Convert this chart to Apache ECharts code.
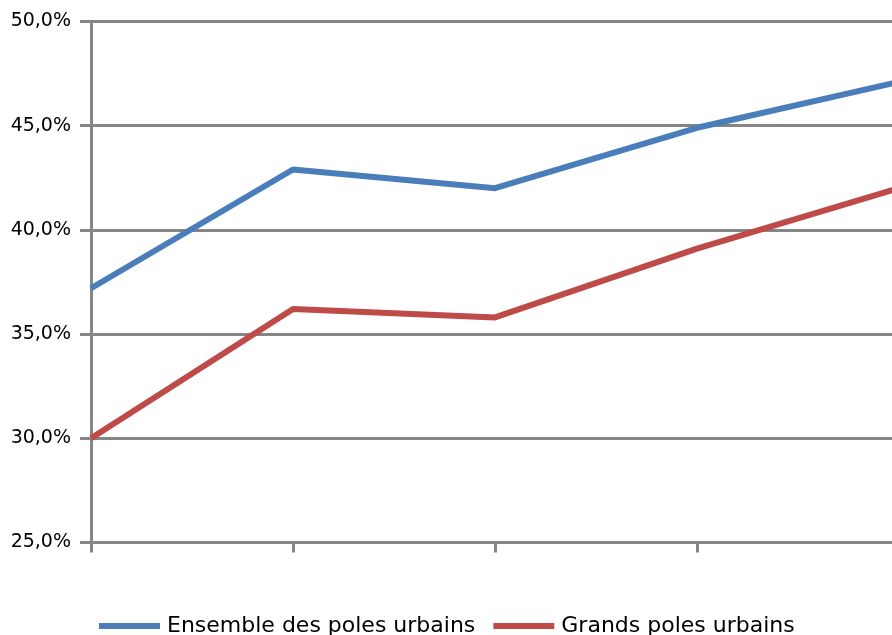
<!DOCTYPE html>
<html>
<head>
<meta charset="utf-8">
<script src="https://cdn.jsdelivr.net/npm/echarts@6/dist/echarts.min.js"></script>
<style>
  html, body { margin: 0; padding: 0; background: #ffffff; overflow: hidden; }
  /* plot area runs slightly past the right edge of the window */
  #chart { width: 900px; height: 635px; }
</style>
</head>
<body>
<div id="chart"></div>
<script>
// Five observation points along the horizontal axis (labels not displayed)
const categories = ['1', '2', '3', '4', '5'];

// Shares, in percent
const ensemblePoles = [37.2, 42.9, 42.0, 44.9, 47.1];
const grandsPoles = [30.0, 36.2, 35.8, 39.1, 42.0];

const seriesNames = ['Ensemble des poles urbains', 'Grands poles urbains'];

const axisGrey = '#868686';
const fontFamily = '"DejaVu Sans", Verdana, sans-serif';

const chart = echarts.init(document.getElementById('chart'), null, { renderer: 'canvas' });

chart.setOption({
  animation: false,
  backgroundColor: '#ffffff',
  color: ['#4A7EBB', '#BE4B48'],
  grid: {
    left: 91,
    top: 21.5,
    right: 1,
    height: 521,
    containLabel: false
  },
  legend: {
    bottom: -7,
    left: 94,
    itemWidth: 61,
    itemHeight: 6,
    itemGap: 18,
    icon: 'rect',
    textStyle: {
      fontFamily: fontFamily,
      fontSize: 22,
      color: '#000000',
      padding: [0, 0, 0, 2]
    },
    data: seriesNames
  },
  xAxis: {
    type: 'category',
    data: categories,
    boundaryGap: false,
    axisLine: { show: true, lineStyle: { color: axisGrey, width: 3 } },
    axisTick: { show: true, length: 10, lineStyle: { color: axisGrey, width: 3 } },
    axisLabel: { show: false },
    splitLine: { show: false }
  },
  yAxis: {
    type: 'value',
    min: 25,
    max: 50,
    interval: 5,
    axisLine: { show: true, lineStyle: { color: axisGrey, width: 3 } },
    axisTick: { show: true, length: 11, lineStyle: { color: axisGrey, width: 3 } },
    axisLabel: {
      margin: 20,
      fontFamily: fontFamily,
      fontSize: 19,
      color: '#000000',
      formatter: function (v) { return v.toFixed(1).replace('.', ',') + '%'; }
    },
    splitLine: { show: true, lineStyle: { color: axisGrey, width: 3 } }
  },
  series: [
    {
      name: seriesNames[0],
      type: 'line',
      data: ensemblePoles,
      symbol: 'none',
      lineStyle: { width: 6, color: '#4A7EBB' }
    },
    {
      name: seriesNames[1],
      type: 'line',
      data: grandsPoles,
      symbol: 'none',
      lineStyle: { width: 6, color: '#BE4B48' }
    }
  ]
});
</script>
</body>
</html>
